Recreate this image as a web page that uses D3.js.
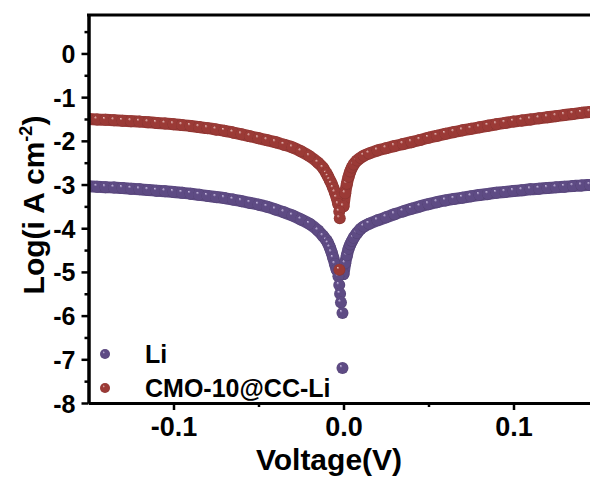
<!DOCTYPE html>
<html>
<head>
<meta charset="utf-8">
<script src="https://cdn.jsdelivr.net/npm/d3@7"></script>
<style>
  html, body { margin: 0; padding: 0; background: #fff; }
  svg { display: block; font-family: "Liberation Sans", Arial, sans-serif; font-weight: bold; }
</style>
</head>
<body>
<svg id="chart" width="590" height="479"></svg>
<script>
// Tafel polarisation data: [potential (V), log(i / A cm^-2)]
const seriesNames = ["Li", "CMO-10@CC-Li"];

const liCathodic = [
  [-0.150,-3.04],[-0.145,-3.05],[-0.140,-3.06],[-0.135,-3.07],[-0.130,-3.08],[-0.125,-3.095],
  [-0.120,-3.11],[-0.115,-3.125],[-0.110,-3.14],[-0.105,-3.155],[-0.100,-3.17],[-0.095,-3.19],
  [-0.090,-3.21],[-0.085,-3.235],[-0.080,-3.26],[-0.075,-3.285],[-0.070,-3.31],[-0.065,-3.345],
  [-0.060,-3.38],[-0.055,-3.42],[-0.050,-3.46],[-0.045,-3.51],[-0.040,-3.57],[-0.035,-3.635],
  [-0.030,-3.71],[-0.025,-3.80],[-0.020,-3.90],[-0.015,-4.05],[-0.012,-4.18],[-0.010,-4.28],
  [-0.009,-4.35],[-0.008,-4.44],[-0.007,-4.55],[-0.006,-4.68],[-0.005,-4.82],[-0.004,-4.95]
];
const liAnodic = [
  [0.000,-5.05],[0.001,-4.80],[0.002,-4.62],[0.003,-4.47],[0.004,-4.37],[0.005,-4.29],
  [0.006,-4.22],[0.008,-4.11],[0.010,-4.02],[0.012,-3.96],[0.015,-3.90],[0.020,-3.82],
  [0.025,-3.75],[0.030,-3.68],[0.035,-3.615],[0.040,-3.555],[0.045,-3.50],[0.050,-3.45],
  [0.055,-3.405],[0.060,-3.365],[0.065,-3.33],[0.070,-3.30],[0.075,-3.27],[0.080,-3.24],
  [0.085,-3.215],[0.090,-3.19],[0.095,-3.17],[0.100,-3.15],[0.105,-3.13],[0.110,-3.11],
  [0.115,-3.095],[0.120,-3.08],[0.125,-3.065],[0.130,-3.05],[0.135,-3.035],[0.140,-3.02],
  [0.145,-3.01],[0.150,-3.00]
];
// scattered points around the corrosion potential
const liNearZero = [
  [-0.003,-5.10],[-0.0025,-5.30],[-0.002,-5.50],[-0.0015,-5.70],[-0.0006,-5.94],[-0.0006,-7.20]
];

const cmoCathodic = [
  [-0.150,-1.50],[-0.145,-1.51],[-0.140,-1.52],[-0.135,-1.53],[-0.130,-1.54],[-0.125,-1.55],
  [-0.120,-1.56],[-0.115,-1.575],[-0.110,-1.59],[-0.105,-1.605],[-0.100,-1.62],[-0.095,-1.64],
  [-0.090,-1.66],[-0.085,-1.685],[-0.080,-1.71],[-0.075,-1.74],[-0.070,-1.77],[-0.065,-1.81],
  [-0.060,-1.85],[-0.055,-1.895],[-0.050,-1.94],[-0.045,-1.985],[-0.040,-2.03],[-0.035,-2.09],
  [-0.030,-2.15],[-0.025,-2.24],[-0.020,-2.35],[-0.015,-2.50],[-0.012,-2.62],[-0.010,-2.75],
  [-0.009,-2.82],[-0.008,-2.90],[-0.007,-2.98],[-0.006,-3.08],[-0.005,-3.18],[-0.004,-3.30],
  [-0.003,-3.45]
];
const cmoAnodic = [
  [0.000,-3.50],[0.001,-3.20],[0.002,-2.98],[0.003,-2.82],[0.004,-2.70],[0.005,-2.61],
  [0.006,-2.54],[0.008,-2.45],[0.010,-2.39],[0.012,-2.34],[0.015,-2.29],[0.020,-2.22],
  [0.025,-2.17],[0.030,-2.12],[0.035,-2.075],[0.040,-2.03],[0.045,-1.98],[0.050,-1.93],
  [0.055,-1.885],[0.060,-1.84],[0.065,-1.80],[0.070,-1.76],[0.075,-1.725],[0.080,-1.69],
  [0.085,-1.655],[0.090,-1.62],[0.095,-1.59],[0.100,-1.56],[0.105,-1.535],[0.110,-1.51],
  [0.115,-1.485],[0.120,-1.46],[0.125,-1.435],[0.130,-1.41],[0.135,-1.385],[0.140,-1.36],
  [0.145,-1.34],[0.150,-1.32]
];
const cmoNearZero = [
  [-0.0025,-3.62],[-0.0022,-3.77],[-0.0024,-4.95]
];

const xTickValues = [-0.1, 0.0, 0.1];
const xTickLabels = ["-0.1", "0.0", "0.1"];
const yTickValues = [0, -1, -2, -3, -4, -5, -6, -7, -8];
const yTickLabels = ["0", "-1", "-2", "-3", "-4", "-5", "-6", "-7", "-8"];

const colors = { li: "#5e4b84", cmo: "#9b3a36" };
const highlights = { li: "#cfc3e6", cmo: "#e9c3bf" };

const svg = d3.select("#chart");
const W = 590, H = 479;
const plot = { left: 88.5, right: 598.5, top: 15, bottom: 403 };

const x = d3.scaleLinear().domain([-0.15, 0.15]).range([plot.left, plot.right]);
const y = d3.scaleLinear().domain([-8, 0.88]).range([plot.bottom, plot.top]);

// sphere-like marker shading
const defs = svg.append("defs");
function sphere(id, base, light) {
  const g = defs.append("radialGradient").attr("id", id)
    .attr("cx", "50%").attr("cy", "50%").attr("r", "50%")
    .attr("fx", "34%").attr("fy", "30%");
  g.append("stop").attr("offset", "0%").attr("stop-color", light);
  g.append("stop").attr("offset", "26%").attr("stop-color", base);
  g.append("stop").attr("offset", "85%").attr("stop-color", base);
  g.append("stop").attr("offset", "100%").attr("stop-color", d3.color(base).darker(0.4));
}
sphere("gLi", colors.li, highlights.li);
sphere("gCmo", colors.cmo, highlights.cmo);

defs.append("clipPath").attr("id", "plotClip")
  .append("rect")
  .attr("x", plot.left).attr("y", plot.top)
  .attr("width", W - plot.left).attr("height", plot.bottom - plot.top);

const line = d3.line()
  .x(d => x(d[0])).y(d => y(d[1]))
  .curve(d3.curveMonotoneX);

const dataLayer = svg.append("g").attr("clip-path", "url(#plotClip)");
const R = 6;

function drawSeries(branches, scatter, key, grad) {
  const g = dataLayer.append("g");
  branches.forEach(b => {
    g.append("path").datum(b)
      .attr("d", line)
      .attr("fill", "none")
      .attr("stroke", colors[key])
      .attr("stroke-width", 2 * R)
      .attr("stroke-linecap", "round")
      .attr("stroke-linejoin", "round");
  });
  const pts = branches.flat().concat(scatter);
  g.selectAll("circle").data(pts).join("circle")
    .attr("cx", d => x(d[0]))
    .attr("cy", d => y(d[1]))
    .attr("r", R)
    .attr("fill", `url(#${grad})`);
}

drawSeries([liCathodic, liAnodic], liNearZero, "li", "gLi");
drawSeries([cmoCathodic, cmoAnodic], cmoNearZero, "cmo", "gCmo");

// axes
const axisStyle = g => {
  g.select(".domain").attr("stroke", "#000").attr("stroke-width", 3);
  g.selectAll(".tick line").attr("stroke", "#000").attr("stroke-width", 2.5);
  g.selectAll(".tick text").attr("fill", "#000").attr("font-weight", "bold")
    .attr("font-family", "'Liberation Sans', Arial, sans-serif");
};

// minor ticks
const yMinor = d3.range(-7.5, 1, 1);
svg.append("g").attr("transform", `translate(${plot.left},0)`)
  .call(d3.axisLeft(y).tickValues(yMinor).tickSize(4).tickSizeOuter(0).tickFormat(""))
  .call(axisStyle);
const xMinor = [-0.05, 0.05, 0.15];
svg.append("g").attr("transform", `translate(0,${plot.bottom})`)
  .call(d3.axisBottom(x).tickValues(xMinor).tickSize(4).tickSizeOuter(0).tickFormat(""))
  .call(axisStyle);

// major ticks with labels
const yAxis = svg.append("g").attr("transform", `translate(${plot.left},0)`)
  .call(d3.axisLeft(y).tickValues(yTickValues).tickSize(7).tickSizeOuter(0).tickPadding(6)
    .tickFormat((d, i) => yTickLabels[i]))
  .call(axisStyle);
yAxis.selectAll(".tick text").attr("font-size", 25).attr("dy", "0.36em");

const xAxis = svg.append("g").attr("transform", `translate(0,${plot.bottom})`)
  .call(d3.axisBottom(x).tickValues(xTickValues).tickSize(7).tickSizeOuter(0).tickPadding(7)
    .tickFormat((d, i) => xTickLabels[i]))
  .call(axisStyle);
xAxis.selectAll(".tick text").attr("font-size", 27);

// top frame line
svg.append("line")
  .attr("x1", plot.left - 1.5).attr("x2", W)
  .attr("y1", plot.top).attr("y2", plot.top)
  .attr("stroke", "#000").attr("stroke-width", 3);

// axis titles
svg.append("text")
  .attr("x", 329).attr("y", 470)
  .attr("text-anchor", "middle")
  .attr("font-size", 30)
  .text("Voltage(V)");

const yTitle = svg.append("text")
  .attr("transform", "translate(44,205) rotate(-90)")
  .attr("text-anchor", "middle")
  .attr("font-size", 30);
yTitle.append("tspan").text("Log(i A cm");
yTitle.append("tspan").attr("font-size", 18).attr("dy", -12).text("-2");
yTitle.append("tspan").attr("dy", 12).text(")");

// legend
const legend = svg.append("g");
const legendRows = [
  { name: seriesNames[0], grad: "gLi", cy: 354, ty: 363 },
  { name: seriesNames[1], grad: "gCmo", cy: 388, ty: 397 }
];
legendRows.forEach(r => {
  legend.append("circle").attr("cx", 105).attr("cy", r.cy).attr("r", 5)
    .attr("fill", `url(#${r.grad})`);
  legend.append("text").attr("x", 145).attr("y", r.ty)
    .attr("font-size", 25).text(r.name);
});
</script>
</body>
</html>
